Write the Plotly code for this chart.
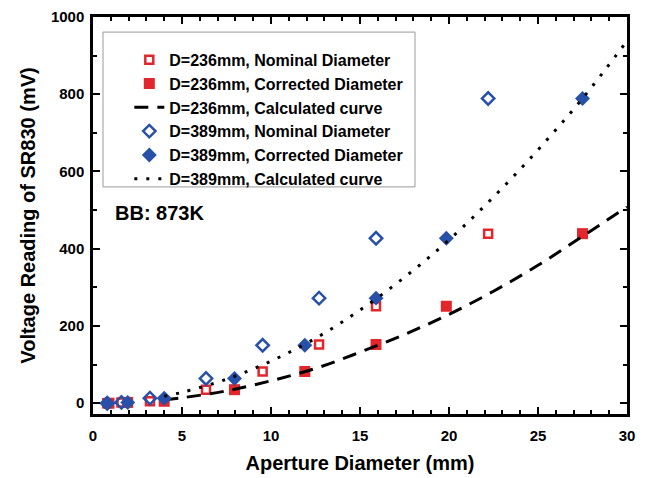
import plotly.graph_objects as go

# ---- data ----
nominal_236_x = [0.8, 1.6, 3.2, 6.35, 9.53, 12.7, 15.9, 22.2]
corrected_236_x = [0.9, 1.95, 4.0, 7.95, 11.9, 15.9, 19.85, 27.5]
reading_236 = [0, 2, 5, 35, 82, 152, 251, 439]

nominal_389_x = [0.8, 1.6, 3.2, 6.35, 9.53, 12.7, 15.9, 22.2]
corrected_389_x = [0.8, 1.95, 4.0, 7.95, 11.9, 15.9, 19.85, 27.5]
reading_389 = [0, 2, 13, 64, 150, 272, 427, 789]

curve_x = [4, 5, 7.5, 10, 12.5, 15, 17.5, 20, 22.5, 25, 27.5, 30]
curve_236 = [9, 14, 32, 58, 90, 132, 178, 230, 290, 357, 432, 508]
curve_389 = [18, 28, 62, 109, 168, 241, 326, 423, 534, 656, 789, 938]

x_ticks = [0, 5, 10, 15, 20, 25, 30]
y_ticks = [0, 200, 400, 600, 800, 1000]

RED = "#e3262b"
BLUE = "#2750a8"
FONT = "Liberation Sans"

fig = go.Figure()

fig.add_trace(go.Scatter(
    x=nominal_236_x, y=reading_236, mode="markers",
    name="D=236mm, Nominal Diameter",
    marker=dict(symbol="square-open", size=8, color=RED, line=dict(width=2.5, color=RED)),
))
fig.add_trace(go.Scatter(
    x=corrected_236_x, y=reading_236, mode="markers",
    name="D=236mm, Corrected Diameter",
    marker=dict(symbol="square", size=11, color=RED, line=dict(width=0)),
))
fig.add_trace(go.Scatter(
    x=curve_x, y=curve_236, mode="lines", line_shape="spline",
    name="D=236mm, Calculated curve",
    line=dict(color="black", width=3, dash="14px,9px"),
))
fig.add_trace(go.Scatter(
    x=nominal_389_x, y=reading_389, mode="markers",
    name="D=389mm, Nominal Diameter",
    marker=dict(symbol="diamond-open", size=9.5, color=BLUE, line=dict(width=2.5, color=BLUE)),
))
fig.add_trace(go.Scatter(
    x=corrected_389_x, y=reading_389, mode="markers",
    name="D=389mm, Corrected Diameter",
    marker=dict(symbol="diamond", size=11.5, color=BLUE, line=dict(width=0)),
))
fig.add_trace(go.Scatter(
    x=curve_x, y=curve_389, mode="lines", line_shape="spline",
    name="D=389mm, Calculated curve",
    line=dict(color="black", width=3, dash="3px,9px"),
))

axis_common = dict(
    showgrid=False, zeroline=False, showline=True, linecolor="black", linewidth=2.5,
    mirror="ticks", ticks="inside", ticklen=7, tickwidth=2, tickcolor="black",
    automargin=False,
    tickfont=dict(family=FONT, size=15, color="black", weight="bold"),
)

fig.update_xaxes(
    range=[0, 30], tickvals=x_ticks, ticklabelstandoff=6,
    minor=dict(dtick=1, ticks="inside", ticklen=4, tickwidth=2, tickcolor="black"),
    title=dict(text="Aperture Diameter (mm)", font=dict(family=FONT, size=20, color="black", weight="bold"), standoff=14),
    **axis_common,
)
fig.update_yaxes(
    range=[-28, 1000], tickvals=y_ticks, ticklabelstandoff=3,
    minor=dict(dtick=100, ticks="inside", ticklen=4, tickwidth=2, tickcolor="black"),
    title=dict(text="Voltage Reading of SR830 (mV)", font=dict(family=FONT, size=20, color="black", weight="bold"), standoff=10),
    **axis_common,
)

fig.add_shape(type="rect", xref="paper", yref="paper",
              x0=0.0187, x1=0.603, y0=0.572, y1=0.962,
              line=dict(color="#9a9a9a", width=1), fillcolor="rgba(0,0,0,0)")

fig.add_annotation(text="BB: 873K", xref="paper", yref="paper", x=0.037, y=0.506,
                   xanchor="left", yanchor="middle", showarrow=False,
                   font=dict(family=FONT, size=20, color="black", weight="bold"))

fig.update_layout(
    width=649, height=478,
    margin=dict(l=93, r=22, t=17, b=64),
    paper_bgcolor="white", plot_bgcolor="white",
    showlegend=True,
    legend=dict(x=0.068, y=0.935, xanchor="left", yanchor="top",
                bgcolor="rgba(0,0,0,0)", borderwidth=0,
                font=dict(family=FONT, size=16, color="black", weight="bold"),
                itemwidth=30),
)

fig.write_html("out.html")
